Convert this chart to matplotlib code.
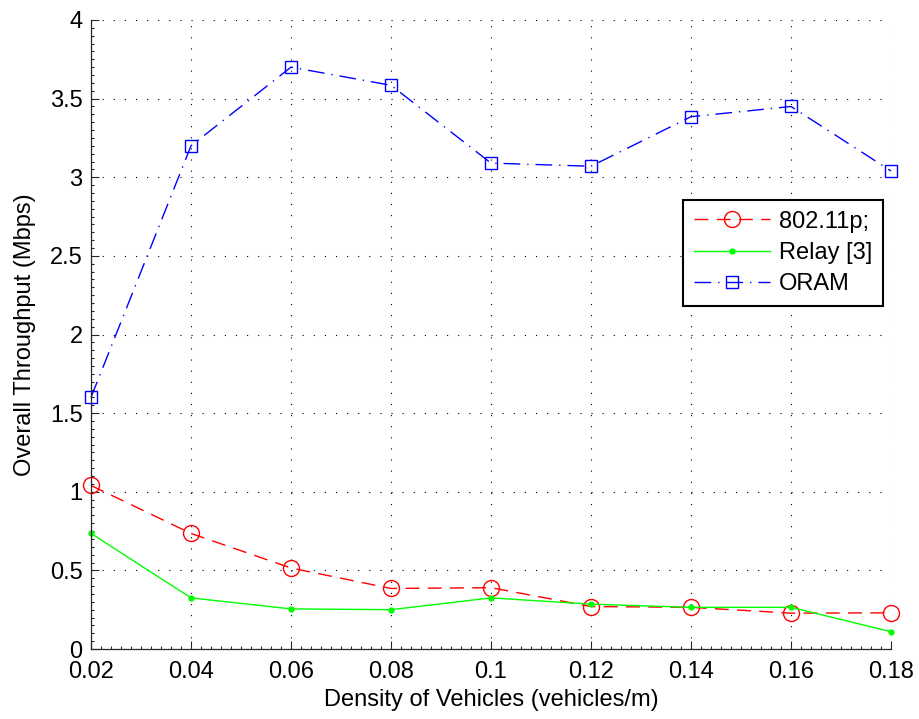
import matplotlib
matplotlib.use("Agg")
import matplotlib.pyplot as plt
from matplotlib.ticker import MultipleLocator, FixedLocator, FixedFormatter

plt.rcParams['font.family'] = ['Liberation Sans', 'DejaVu Sans']

# Data
density = [0.02, 0.04, 0.06, 0.08, 0.10, 0.12, 0.14, 0.16, 0.18]
thr_80211p = [1.04, 0.735, 0.515, 0.385, 0.39, 0.27, 0.265, 0.228, 0.23]
thr_relay = [0.735, 0.325, 0.255, 0.25, 0.325, 0.285, 0.265, 0.265, 0.11]
thr_oram = [1.60, 3.20, 3.70, 3.585, 3.09, 3.07, 3.385, 3.45, 3.04]

xticks = [0.02, 0.04, 0.06, 0.08, 0.10, 0.12, 0.14, 0.16, 0.18]
xticklabels = ['0.02', '0.04', '0.06', '0.08', '0.1', '0.12', '0.14', '0.16', '0.18']
yticks = [0, 0.5, 1, 1.5, 2, 2.5, 3, 3.5, 4]
yticklabels = ['0', '0.5', '1', '1.5', '2', '2.5', '3', '3.5', '4']

W, H = 920, 719
fig = plt.figure(figsize=(W / 100, H / 100), dpi=100)
ax = fig.add_axes([91 / W, (H - 649) / H, 800 / W, 629 / H])

FS = 17

ax.plot(density, thr_80211p, color=(1, 0, 0), lw=1.0, linestyle=(0, (10, 6)),
        marker='o', markersize=11.5, markerfacecolor='none',
        markeredgecolor=(1, 0, 0), markeredgewidth=1.0, label='802.11p;',
        clip_on=False)
ax.plot(density, thr_relay, color=(0, 1, 0), lw=1.0, linestyle='-',
        marker='o', markersize=3.5, markerfacecolor=(0, 1, 0),
        markeredgecolor=(0, 1, 0), label='Relay [3]', clip_on=False)
ax.plot(density, thr_oram, color=(0, 0, 1), lw=1.0, linestyle=(0, (12, 5, 1, 5)),
        marker='s', markersize=8.5, markerfacecolor='none',
        markeredgecolor=(0, 0, 1), markeredgewidth=1.0, label='ORAM',
        clip_on=False)

ax.set_xlim(0.02, 0.18)
ax.set_ylim(0, 4)
ax.xaxis.set_major_locator(FixedLocator(xticks))
ax.xaxis.set_major_formatter(FixedFormatter(xticklabels))
ax.yaxis.set_major_locator(FixedLocator(yticks))
ax.yaxis.set_major_formatter(FixedFormatter(yticklabels))
ax.xaxis.set_minor_locator(MultipleLocator(0.002))
ax.yaxis.set_minor_locator(MultipleLocator(0.05))

ax.tick_params(which='both', direction='in', top=False, right=False,
               colors='#262626', width=0.8)
ax.tick_params(which='major', length=6, labelsize=FS, labelcolor='black')
ax.tick_params(axis='x', which='major', pad=9)
ax.tick_params(axis='y', which='major', pad=6)
ax.tick_params(which='minor', length=2.5)

for side in ('top', 'right'):
    ax.spines[side].set_visible(False)
for side in ('left', 'bottom'):
    ax.spines[side].set_color('#262626')
    ax.spines[side].set_linewidth(0.9)

ax.grid(True, which='major', color='black', linestyle=(0, (1, 9)), linewidth=0.8)
ax.set_axisbelow(True)

ax.set_xlabel('Density of Vehicles (vehicles/m)', fontsize=FS, labelpad=4)
ax.set_ylabel('Overall Throughput (Mbps)', fontsize=FS, labelpad=10)

leg = ax.legend(loc='upper right', bbox_to_anchor=(0.99, 0.714), borderaxespad=0,
                fontsize=FS, handlelength=3.2, handletextpad=0.4,
                labelspacing=0.4, borderpad=0.45, fancybox=False, framealpha=1,
                edgecolor='black')
leg.get_frame().set_linewidth(1.5)

fig.savefig('out.png', dpi=100)
